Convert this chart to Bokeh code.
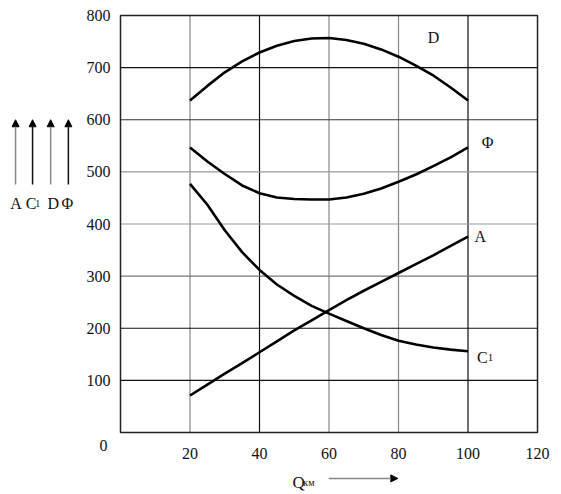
from bokeh.plotting import figure
from bokeh.models import Range1d, Arrow, NormalHead
from bokeh.core.properties import value
from bokeh.embed import file_html
from bokeh.resources import INLINE

# ---- data ----
q = [20, 25, 30, 35, 40, 45, 50, 55, 60, 65, 70, 75, 80, 85, 90, 95, 100]
D = [637, 665, 691, 712, 729, 742, 751, 756, 757, 753, 746, 735, 721, 704, 685, 662, 637]
PHI = [547, 520, 496, 474, 459, 451, 448, 447, 447, 451, 458, 468, 481, 495, 511, 528, 547]
C1 = [477, 437, 388, 346, 312, 284, 262, 243, 228, 214, 200, 187, 176, 169, 163, 159, 156]
A = [71, 92, 113, 133, 154, 175, 196, 215, 235, 254, 272, 289, 306, 323, 340, 358, 376]

x_ticks = [20, 40, 60, 80, 100, 120]
y_ticks = [100, 200, 300, 400, 500, 600, 700, 800]
vgrid = [20, 40, 60, 80, 100]
vgrid_colors = ["#888888", "#111111", "#888888", "#888888", "#111111"]
hgrid = [100, 200, 300, 400, 500, 600, 700]
hgrid_colors = ["#111111", "#111111", "#777777", "#999999", "#999999", "#333333", "#111111"]
X_MIN, X_MAX = 0, 120
Y_MIN, Y_MAX = 0, 800

FONT = "Liberation Serif"

# frame covers the whole canvas; the chart box sits inside it
p = figure(width=561, height=494, output_backend="svg", toolbar_location=None,
           x_range=Range1d(-34.53, 126.9), y_range=Range1d(-118.9, 828.8),
           min_border_left=0, min_border_right=0, min_border_top=0, min_border_bottom=0)
p.axis.visible = False
p.grid.visible = False
p.outline_line_color = None
p.background_fill_color = "white"
p.border_fill_color = "white"

# grid lines
p.segment(x0=vgrid, y0=[Y_MIN] * len(vgrid), x1=vgrid, y1=[Y_MAX] * len(vgrid),
          line_color=vgrid_colors, line_width=1.2)
p.segment(x0=[X_MIN] * len(hgrid), y0=hgrid, x1=[X_MAX] * len(hgrid), y1=hgrid,
          line_color=hgrid_colors, line_width=1.2)
# chart box
p.quad(left=[X_MIN], right=[X_MAX], bottom=[Y_MIN], top=[Y_MAX],
       fill_color=None, line_color="#222222", line_width=1.5)

for series in (D, PHI, C1, A):
    p.line(q, series, line_color="black", line_width=2.6)

# tick labels
p.text(x=[-2.9] * len(y_ticks), y=y_ticks, text=[str(t) for t in y_ticks],
       text_font=value(FONT), text_font_size="16px", text_align="right",
       text_baseline="middle", text_color="#111111")
p.text(x=x_ticks, y=[-40.5] * len(x_ticks), text=[str(t) for t in x_ticks],
       text_font=value(FONT), text_font_size="16px", text_align="center",
       text_baseline="middle", text_color="#111111")

def lab(x, y, t, size="16px", align="center", baseline="middle"):
    p.text(x=[x], y=[y], text=[t], text_font=value(FONT), text_font_size=size,
           text_align=align, text_baseline=baseline, text_color="#111111")

# "0" at the origin corner
lab(-4.9, -25, "0")

# curve labels
lab(90.1, 758, "D")
lab(105.6, 556, "Φ")
lab(103.5, 376, "A")
lab(102.6, 144, "C", baseline="alphabetic", align="left")
lab(105.7, 144, "1", size="11px", baseline="alphabetic", align="left")

# left legend arrows and letters
arrow_x = [-30.2, -25.3, -20.1, -15.0]
arrow_colors = ["#888888", "#111111", "#888888", "#111111"]
for ax_, c in zip(arrow_x, arrow_colors):
    p.add_layout(Arrow(x_start=ax_, y_start=476, x_end=ax_, y_end=600,
                       line_color=c, line_width=1.5,
                       end=NormalHead(size=7, fill_color="black", line_color="black")))
lab(-31.7, 439, "A", align="left", baseline="alphabetic")
lab(-27.3, 439, "C", align="left", baseline="alphabetic")
lab(-24.5, 439, "1", size="10px", align="left", baseline="alphabetic")
lab(-21.0, 439, "D", align="left", baseline="alphabetic")
lab(-17.0, 439, "Φ", align="left", baseline="alphabetic")

# x axis title with arrow
lab(49.5, -96, "Q", size="17px", align="left", baseline="alphabetic")
lab(52.6, -96, "км", size="10px", align="left", baseline="alphabetic")
p.add_layout(Arrow(x_start=59.9, y_start=-88, x_end=79.8, y_end=-88,
                   line_color="#888888", line_width=1.5,
                   end=NormalHead(size=7, fill_color="black", line_color="black")))

open("out.html", "w").write(file_html(p, INLINE))
